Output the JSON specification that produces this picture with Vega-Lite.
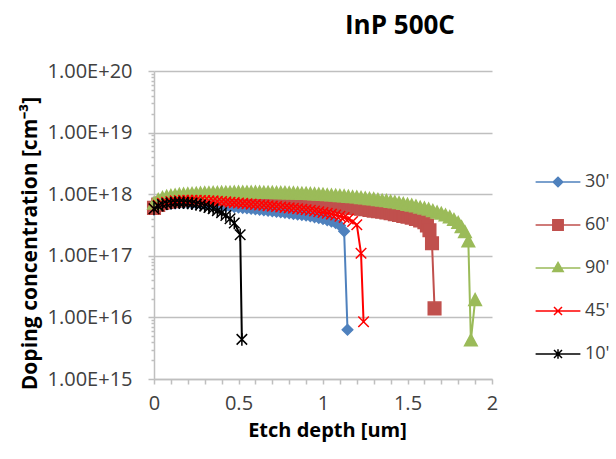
{
"$schema":"https://vega.github.io/schema/vega-lite/v6.json",
"width":338,"height":308,
"autosize":{"type":"none"},
"padding":{"left":154,"top":71,"right":124,"bottom":80},
"background":"white",
"title":{"text":"InP 500C","fontSize":26,"fontWeight":"bold","font":"Open Sans","color":"#000000","anchor":"start","frame":"group","dx":191,"offset":22},
"config":{"font":"Open Sans","view":{"stroke":null}},
"data":{"values":[
{"s":"30'","x":0,"y":5.6e17},{"s":"30'","x":0.025,"y":6.2e17},{"s":"30'","x":0.05,"y":6.6e17},{"s":"30'","x":0.075,"y":6.9e17},{"s":"30'","x":0.1,"y":7.0e17},{"s":"30'","x":0.125,"y":7.1e17},{"s":"30'","x":0.15,"y":7.2e17},{"s":"30'","x":0.175,"y":7.2e17},{"s":"30'","x":0.2,"y":7.2e17},{"s":"30'","x":0.225,"y":7.1e17},{"s":"30'","x":0.25,"y":7.1e17},{"s":"30'","x":0.275,"y":7.0e17},{"s":"30'","x":0.3,"y":6.9e17},{"s":"30'","x":0.325,"y":6.8e17},{"s":"30'","x":0.35,"y":6.7e17},{"s":"30'","x":0.375,"y":6.6e17},{"s":"30'","x":0.4,"y":6.5e17},{"s":"30'","x":0.425,"y":6.4e17},{"s":"30'","x":0.45,"y":6.3e17},{"s":"30'","x":0.475,"y":6.2e17},{"s":"30'","x":0.5,"y":6.1e17},{"s":"30'","x":0.525,"y":6.0e17},{"s":"30'","x":0.55,"y":5.9e17},{"s":"30'","x":0.575,"y":5.8e17},{"s":"30'","x":0.6,"y":5.7e17},{"s":"30'","x":0.625,"y":5.6e17},{"s":"30'","x":0.65,"y":5.5e17},{"s":"30'","x":0.675,"y":5.4e17},{"s":"30'","x":0.7,"y":5.3e17},{"s":"30'","x":0.725,"y":5.2e17},{"s":"30'","x":0.75,"y":5.1e17},{"s":"30'","x":0.775,"y":5.0e17},{"s":"30'","x":0.8,"y":4.9e17},{"s":"30'","x":0.825,"y":4.8e17},{"s":"30'","x":0.85,"y":4.7e17},{"s":"30'","x":0.875,"y":4.6e17},{"s":"30'","x":0.9,"y":4.5e17},{"s":"30'","x":0.925,"y":4.4e17},{"s":"30'","x":0.95,"y":4.25e17},{"s":"30'","x":0.975,"y":4.1e17},{"s":"30'","x":1.0,"y":3.95e17},{"s":"30'","x":1.025,"y":3.8e17},{"s":"30'","x":1.05,"y":3.6e17},{"s":"30'","x":1.075,"y":3.4e17},{"s":"30'","x":1.1,"y":3.1e17},{"s":"30'","x":1.125,"y":2.5e17},{"s":"30'","x":1.145,"y":6.3e15},
{"s":"60'","x":0,"y":6.0e17},{"s":"60'","x":0.025,"y":6.7e17},{"s":"60'","x":0.05,"y":7.2e17},{"s":"60'","x":0.075,"y":7.5e17},{"s":"60'","x":0.1,"y":7.7e17},{"s":"60'","x":0.125,"y":7.9e17},{"s":"60'","x":0.15,"y":8.0e17},{"s":"60'","x":0.175,"y":8.1e17},{"s":"60'","x":0.2,"y":8.2e17},{"s":"60'","x":0.225,"y":8.3e17},{"s":"60'","x":0.25,"y":8.3e17},{"s":"60'","x":0.275,"y":8.4e17},{"s":"60'","x":0.3,"y":8.4e17},{"s":"60'","x":0.325,"y":8.4e17},{"s":"60'","x":0.35,"y":8.4e17},{"s":"60'","x":0.375,"y":8.4e17},{"s":"60'","x":0.4,"y":8.4e17},{"s":"60'","x":0.425,"y":8.4e17},{"s":"60'","x":0.45,"y":8.3e17},{"s":"60'","x":0.475,"y":8.3e17},{"s":"60'","x":0.5,"y":8.3e17},{"s":"60'","x":0.525,"y":8.2e17},{"s":"60'","x":0.55,"y":8.2e17},{"s":"60'","x":0.575,"y":8.1e17},{"s":"60'","x":0.6,"y":8.1e17},{"s":"60'","x":0.625,"y":8.0e17},{"s":"60'","x":0.65,"y":8.0e17},{"s":"60'","x":0.675,"y":7.9e17},{"s":"60'","x":0.7,"y":7.8e17},{"s":"60'","x":0.725,"y":7.8e17},{"s":"60'","x":0.75,"y":7.7e17},{"s":"60'","x":0.775,"y":7.6e17},{"s":"60'","x":0.8,"y":7.5e17},{"s":"60'","x":0.825,"y":7.4e17},{"s":"60'","x":0.85,"y":7.4e17},{"s":"60'","x":0.875,"y":7.3e17},{"s":"60'","x":0.9,"y":7.2e17},{"s":"60'","x":0.925,"y":7.1e17},{"s":"60'","x":0.95,"y":7.0e17},{"s":"60'","x":0.975,"y":6.9e17},{"s":"60'","x":1.0,"y":6.8e17},{"s":"60'","x":1.025,"y":6.7e17},{"s":"60'","x":1.05,"y":6.6e17},{"s":"60'","x":1.075,"y":6.5e17},{"s":"60'","x":1.1,"y":6.3e17},{"s":"60'","x":1.125,"y":6.2e17},{"s":"60'","x":1.15,"y":6.1e17},{"s":"60'","x":1.175,"y":6.0e17},{"s":"60'","x":1.2,"y":5.9e17},{"s":"60'","x":1.225,"y":5.8e17},{"s":"60'","x":1.25,"y":5.7e17},{"s":"60'","x":1.275,"y":5.55e17},{"s":"60'","x":1.3,"y":5.4e17},{"s":"60'","x":1.325,"y":5.3e17},{"s":"60'","x":1.35,"y":5.2e17},{"s":"60'","x":1.375,"y":5.05e17},{"s":"60'","x":1.4,"y":4.9e17},{"s":"60'","x":1.425,"y":4.75e17},{"s":"60'","x":1.45,"y":4.6e17},{"s":"60'","x":1.475,"y":4.45e17},{"s":"60'","x":1.5,"y":4.3e17},{"s":"60'","x":1.525,"y":4.15e17},{"s":"60'","x":1.55,"y":3.95e17},{"s":"60'","x":1.575,"y":3.75e17},{"s":"60'","x":1.6,"y":3.5e17},{"s":"60'","x":1.615,"y":3.1e17},{"s":"60'","x":1.63,"y":2.6e17},{"s":"60'","x":1.645,"y":1.6e17},{"s":"60'","x":1.66,"y":1.4e16},
{"s":"90'","x":0,"y":7.0e17},{"s":"90'","x":0.025,"y":8.0e17},{"s":"90'","x":0.05,"y":8.6e17},{"s":"90'","x":0.075,"y":9.0e17},{"s":"90'","x":0.1,"y":9.3e17},{"s":"90'","x":0.125,"y":9.5e17},{"s":"90'","x":0.15,"y":9.7e17},{"s":"90'","x":0.175,"y":9.8e17},{"s":"90'","x":0.2,"y":9.9e17},{"s":"90'","x":0.225,"y":1.0e18},{"s":"90'","x":0.25,"y":1.01e18},{"s":"90'","x":0.275,"y":1.02e18},{"s":"90'","x":0.3,"y":1.03e18},{"s":"90'","x":0.325,"y":1.03e18},{"s":"90'","x":0.35,"y":1.04e18},{"s":"90'","x":0.375,"y":1.04e18},{"s":"90'","x":0.4,"y":1.05e18},{"s":"90'","x":0.425,"y":1.05e18},{"s":"90'","x":0.45,"y":1.05e18},{"s":"90'","x":0.475,"y":1.06e18},{"s":"90'","x":0.5,"y":1.06e18},{"s":"90'","x":0.525,"y":1.06e18},{"s":"90'","x":0.55,"y":1.06e18},{"s":"90'","x":0.575,"y":1.06e18},{"s":"90'","x":0.6,"y":1.06e18},{"s":"90'","x":0.625,"y":1.06e18},{"s":"90'","x":0.65,"y":1.05e18},{"s":"90'","x":0.675,"y":1.05e18},{"s":"90'","x":0.7,"y":1.05e18},{"s":"90'","x":0.725,"y":1.04e18},{"s":"90'","x":0.75,"y":1.04e18},{"s":"90'","x":0.775,"y":1.04e18},{"s":"90'","x":0.8,"y":1.03e18},{"s":"90'","x":0.825,"y":1.03e18},{"s":"90'","x":0.85,"y":1.02e18},{"s":"90'","x":0.875,"y":1.01e18},{"s":"90'","x":0.9,"y":1.01e18},{"s":"90'","x":0.925,"y":1.0e18},{"s":"90'","x":0.95,"y":9.9e17},{"s":"90'","x":0.975,"y":9.8e17},{"s":"90'","x":1.0,"y":9.7e17},{"s":"90'","x":1.025,"y":9.6e17},{"s":"90'","x":1.05,"y":9.5e17},{"s":"90'","x":1.075,"y":9.4e17},{"s":"90'","x":1.1,"y":9.3e17},{"s":"90'","x":1.125,"y":9.2e17},{"s":"90'","x":1.15,"y":9.0e17},{"s":"90'","x":1.175,"y":8.9e17},{"s":"90'","x":1.2,"y":8.8e17},{"s":"90'","x":1.225,"y":8.6e17},{"s":"90'","x":1.25,"y":8.5e17},{"s":"90'","x":1.275,"y":8.3e17},{"s":"90'","x":1.3,"y":8.2e17},{"s":"90'","x":1.325,"y":8.0e17},{"s":"90'","x":1.35,"y":7.8e17},{"s":"90'","x":1.375,"y":7.7e17},{"s":"90'","x":1.4,"y":7.5e17},{"s":"90'","x":1.425,"y":7.3e17},{"s":"90'","x":1.45,"y":7.1e17},{"s":"90'","x":1.475,"y":6.9e17},{"s":"90'","x":1.5,"y":6.7e17},{"s":"90'","x":1.525,"y":6.5e17},{"s":"90'","x":1.55,"y":6.3e17},{"s":"90'","x":1.575,"y":6.0e17},{"s":"90'","x":1.6,"y":5.8e17},{"s":"90'","x":1.625,"y":5.6e17},{"s":"90'","x":1.65,"y":5.3e17},{"s":"90'","x":1.675,"y":5.0e17},{"s":"90'","x":1.7,"y":4.8e17},{"s":"90'","x":1.725,"y":4.5e17},{"s":"90'","x":1.75,"y":4.2e17},{"s":"90'","x":1.775,"y":3.8e17},{"s":"90'","x":1.8,"y":3.4e17},{"s":"90'","x":1.82,"y":2.9e17},{"s":"90'","x":1.84,"y":2.4e17},{"s":"90'","x":1.86,"y":1.7e17},{"s":"90'","x":1.875,"y":4.2e15},{"s":"90'","x":1.9,"y":1.9e16},
{"s":"45'","x":0,"y":5.8e17},{"s":"45'","x":0.025,"y":6.6e17},{"s":"45'","x":0.05,"y":7.1e17},{"s":"45'","x":0.075,"y":7.4e17},{"s":"45'","x":0.1,"y":7.6e17},{"s":"45'","x":0.125,"y":7.8e17},{"s":"45'","x":0.15,"y":7.9e17},{"s":"45'","x":0.175,"y":8.0e17},{"s":"45'","x":0.2,"y":8.0e17},{"s":"45'","x":0.225,"y":8.0e17},{"s":"45'","x":0.25,"y":8.0e17},{"s":"45'","x":0.275,"y":7.9e17},{"s":"45'","x":0.3,"y":7.9e17},{"s":"45'","x":0.325,"y":7.8e17},{"s":"45'","x":0.35,"y":7.8e17},{"s":"45'","x":0.375,"y":7.7e17},{"s":"45'","x":0.4,"y":7.6e17},{"s":"45'","x":0.425,"y":7.5e17},{"s":"45'","x":0.45,"y":7.4e17},{"s":"45'","x":0.475,"y":7.3e17},{"s":"45'","x":0.5,"y":7.2e17},{"s":"45'","x":0.525,"y":7.1e17},{"s":"45'","x":0.55,"y":7.0e17},{"s":"45'","x":0.575,"y":6.9e17},{"s":"45'","x":0.6,"y":6.8e17},{"s":"45'","x":0.625,"y":6.7e17},{"s":"45'","x":0.65,"y":6.6e17},{"s":"45'","x":0.675,"y":6.5e17},{"s":"45'","x":0.7,"y":6.4e17},{"s":"45'","x":0.725,"y":6.3e17},{"s":"45'","x":0.75,"y":6.2e17},{"s":"45'","x":0.775,"y":6.1e17},{"s":"45'","x":0.8,"y":6.0e17},{"s":"45'","x":0.825,"y":5.9e17},{"s":"45'","x":0.85,"y":5.8e17},{"s":"45'","x":0.875,"y":5.7e17},{"s":"45'","x":0.9,"y":5.6e17},{"s":"45'","x":0.925,"y":5.5e17},{"s":"45'","x":0.95,"y":5.35e17},{"s":"45'","x":0.975,"y":5.2e17},{"s":"45'","x":1.0,"y":5.05e17},{"s":"45'","x":1.025,"y":4.9e17},{"s":"45'","x":1.05,"y":4.75e17},{"s":"45'","x":1.075,"y":4.6e17},{"s":"45'","x":1.1,"y":4.4e17},{"s":"45'","x":1.125,"y":4.2e17},{"s":"45'","x":1.15,"y":3.95e17},{"s":"45'","x":1.175,"y":3.6e17},{"s":"45'","x":1.2,"y":3.2e17},{"s":"45'","x":1.225,"y":1.1e17},{"s":"45'","x":1.24,"y":8.5e15},
{"s":"10'","x":0,"y":5.8e17},{"s":"10'","x":0.025,"y":6.4e17},{"s":"10'","x":0.05,"y":6.8e17},{"s":"10'","x":0.075,"y":7.0e17},{"s":"10'","x":0.1,"y":7.2e17},{"s":"10'","x":0.125,"y":7.3e17},{"s":"10'","x":0.15,"y":7.3e17},{"s":"10'","x":0.175,"y":7.3e17},{"s":"10'","x":0.2,"y":7.2e17},{"s":"10'","x":0.225,"y":7.1e17},{"s":"10'","x":0.25,"y":6.9e17},{"s":"10'","x":0.275,"y":6.7e17},{"s":"10'","x":0.3,"y":6.4e17},{"s":"10'","x":0.325,"y":6.1e17},{"s":"10'","x":0.35,"y":5.8e17},{"s":"10'","x":0.375,"y":5.4e17},{"s":"10'","x":0.4,"y":5.0e17},{"s":"10'","x":0.425,"y":4.5e17},{"s":"10'","x":0.45,"y":4.0e17},{"s":"10'","x":0.475,"y":3.4e17},{"s":"10'","x":0.51,"y":2.2e17},{"s":"10'","x":0.52,"y":4.4e15}
]},
"encoding":{
"x":{"field":"x","type":"quantitative","scale":{"domain":[0,2],"nice":false},
"axis":{"values":[0,0.1,0.2,0.3,0.4,0.5,0.6,0.7,0.8,0.9,1,1.1,1.2,1.3,1.4,1.5,1.6,1.7,1.8,1.9,2],
"labelExpr":"abs(datum.value*2-round(datum.value*2))<0.001 ? format(datum.value,'~g') : ''",
"title":"Etch depth [um]","grid":false,"tickSize":5,"labelPadding":9,"labelFontSize":20,"labelColor":"#404040","labelFlush":false,"labelOverlap":false,
"domainColor":"#BFBFBF","domainWidth":1.5,"tickColor":"#BFBFBF","tickWidth":1.5,
"titleFontSize":20,"titleFontWeight":"bold","titleColor":"#000000","titleX":173,"titleY":57,"titleBaseline":"alphabetic","titleAlign":"center"}},
"y":{"field":"y","type":"quantitative","scale":{"type":"log","domain":[1e15,1e20],"nice":false},
"axis":{"values":[1e15,2e15,3e15,4e15,5e15,6e15,7e15,8e15,9e15,1e16,2e16,3e16,4e16,5e16,6e16,7e16,8e16,9e16,1e17,2e17,3e17,4e17,5e17,6e17,7e17,8e17,9e17,1e18,2e18,3e18,4e18,5e18,6e18,7e18,8e18,9e18,1e19,2e19,3e19,4e19,5e19,6e19,7e19,8e19,9e19,1e20],
"labelExpr":"abs(log(datum.value)/LN10-round(log(datum.value)/LN10))<0.001 ? upper(format(datum.value,'.2e')) : ''",
"grid":true,"gridColor":"#BFBFBF","gridWidth":1.5,
"gridOpacity":{"condition":{"test":"abs(log(datum.value)/LN10-round(log(datum.value)/LN10))<0.001","value":1},"value":0},
"tickSize":{"condition":{"test":"abs(log(datum.value)/LN10-round(log(datum.value)/LN10))<0.001","value":6},"value":3},
"labelPadding":16,"labelFontSize":20,"labelColor":"#404040","labelOverlap":false,"labelFlush":false,
"domainColor":"#BFBFBF","domainWidth":1.5,"tickColor":"#BFBFBF","tickWidth":1.5,
"title":"Doping concentration [cm⁻³]","titleFontSize":21,"titleFontWeight":"bold","titleColor":"#000000","titleX":-118,"titleY":172,"titleBaseline":"alphabetic","titleAlign":"center"}},
"color":{"field":"s","type":"nominal","title":null,"scale":{"domain":["30'","60'","90'","45'","10'"],"range":["#4F81BD","#C0504D","#9BBB59","#FF0000","#000000"]},
"legend":{"orient":"none","legendX":395,"legendY":102,"title":null,"padding":0,"symbolSize":64,"rowPadding":25,"labelFontSize":18,"labelColor":"#404040","labelOffset":18,"labelFont":"Open Sans",
"encode":{"symbols":{"update":{"shape":{"signal":"['M-5.6,0L5.6,0M0,-1.2L1.2,0L0,1.2L-1.2,0Z','M-5.6,0L5.6,0M-1.3,-1.3L1.3,-1.3L1.3,1.3L-1.3,1.3Z','M-5.6,0L5.6,0M0,-1.4L1.3,0.9L-1.3,0.9Z','M-5.6,0L5.6,0M-1,-1L1,1M1,-1L-1,1','M-5.6,0L5.6,0M-1,-1L1,1M1,-1L-1,1M0,-1.2L0,1.2'][datum.index]"},"strokeWidth":{"value":1.5},"opacity":{"value":1}}}}}}
},
"layer":[
{"mark":{"type":"line","strokeWidth":2}},
{"mark":{"type":"point","filled":true,"opacity":1,"size":110,"strokeWidth":1.5},
"encoding":{
"shape":{"field":"s","type":"nominal","title":null,"legend":null,"scale":{"domain":["30'","60'","90'","45'","10'","_"],"range":["diamond","M-1.2,-1.2L1.2,-1.2L1.2,1.2L-1.2,1.2Z","M0,-1.25L1.2,1L-1.2,1Z","M-1,-1L1,1M1,-1L-1,1","M-1,-1L1,1M1,-1L-1,1M0,-1.2L0,1.2","circle"]}},
"stroke":{"field":"s","type":"nominal","title":null,"scale":{"domain":["30'","60'","90'","45'","10'"],"range":["#4F81BD","#C0504D","#9BBB59","#FF0000","#000000"]}}}}
]
}
